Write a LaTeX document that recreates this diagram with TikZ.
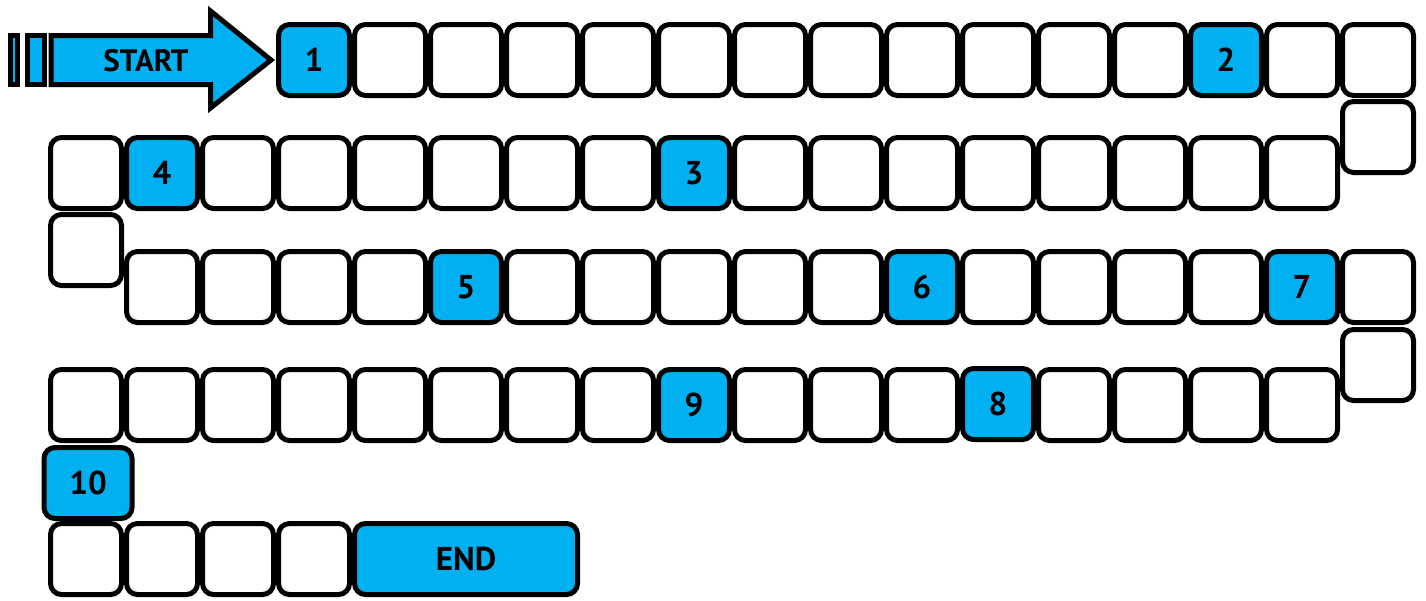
\documentclass[tikz,border=0pt]{standalone}
\usepackage{fontspec}
\setmainfont{PT Sans}
\definecolor{boardblue}{HTML}{00B0F0}
\begin{document}
\begin{tikzpicture}[x=1pt,y=-1pt,
  cell/.style={draw=black,line width=5pt,rounded corners=11pt,fill=white,
    minimum width=71pt,minimum height=71pt,inner sep=0pt,font=\fontsize{33}{36}\selectfont\bfseries},
  hl/.style={cell,fill=boardblue},
  arrowshape/.style={draw=black,line width=5pt,fill=boardblue,line join=miter}]
\useasboundingbox (0,0) rectangle (1426,600);
% start arrow
\draw[arrowshape] (10.5,35.5) rectangle (17.5,84.5);
\draw[arrowshape] (27.5,35.5) rectangle (44.5,84.5);
\draw[arrowshape] (51,35.5) -- (210.5,35.5) -- (210.5,11) -- (271,60) -- (210.5,108) -- (210.5,84.5) -- (51,84.5) -- cycle;
\node[font=\fontsize{31}{33}\selectfont\bfseries] (start) at (146,61) {START};
% row 1
\foreach \k in {4,...,14,16,17} {\node[cell] (a\k) at ({86+76*\k},60) {};}
\node[hl] (a3) at ({86+76*3},60) {1};
\node[hl] (a15) at ({86+76*15},60) {2};
\node[cell] (c1) at ({86+76*17},137) {};
% row 2
\foreach \k in {0,2,3,4,5,6,7,9,10,11,12,13,14,15,16} {\node[cell] (b\k) at ({86+76*\k},173) {};}
\node[hl] (b1) at ({86+76*1},173) {4};
\node[hl] (b8) at ({86+76*8},173) {3};
\node[cell] (c2) at (86,250) {};
% row 3
\foreach \k in {1,2,3,4,6,7,8,9,10,12,13,14,15,17} {\node[cell] (r\k) at ({86+76*\k},287) {};}
\node[hl] (r5) at ({86+76*5},287) {5};
\node[hl] (r11) at ({86+76*11},287) {6};
\node[hl] (r16) at ({86+76*16},287) {7};
\node[cell] (c3) at ({86+76*17},365) {};
% row 4
\foreach \k in {0,...,7,9,10,11,13,14,15,16} {\node[cell] (d\k) at ({86+76*\k},405) {};}
\node[hl] (d8) at ({86+76*8},405) {9};
\node[hl] (d12) at ({86+76*12},404) {8};
% 10
\node[hl,minimum width=88pt] (ten) at (88,483) {10};
% last row
\foreach \k in {0,...,3} {\node[cell] (e\k) at ({86+76*\k},559) {};}
\node[hl,minimum width=223pt] (end) at (466,559) {END};
\end{tikzpicture}
\end{document}
